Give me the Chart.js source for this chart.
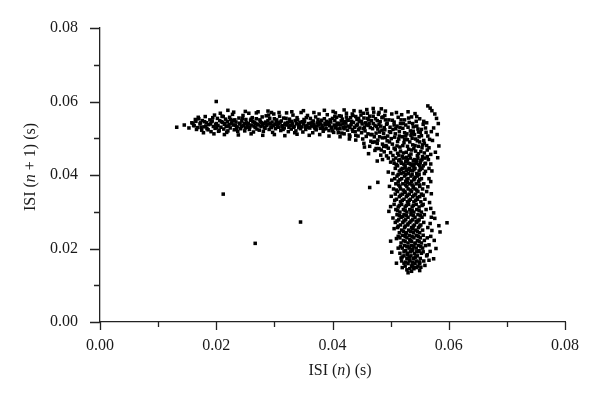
<!DOCTYPE html>
<html>
<head>
<meta charset="utf-8">
<script src="https://cdn.jsdelivr.net/npm/chart.js@4"></script>
<style>
  html, body { margin: 0; padding: 0; background: #fff; }
  #wrap { width: 600px; height: 403px; }
</style>
</head>
<body>
<div id="wrap"><canvas id="isiChart" width="600" height="403"></canvas></div>
<script>
// values, in milliseconds: [ISI(n), ISI(n+1)]
const horizontalBand = [
  [13.2,53.0],[14.5,53.6],[15.3,52.8],[15.8,54.2],[16.1,53.5],[16.4,55.1],[16.6,52.4],
  [16.2,53.4],[16.5,54.6],[16.8,52.9],[17.0,55.3],[17.2,53.9],[17.5,52.2],[17.6,54.8],[17.9,53.1],
  [18.1,55.9],[18.3,54.2],[18.4,52.6],[18.7,53.7],[18.9,55.0],[19.1,51.8],[19.2,54.5],[19.5,53.2],
  [19.7,56.3],[19.8,52.7],[20.0,54.0],[20.2,55.4],[20.3,53.5],[20.5,52.1],[20.6,54.8],[20.8,53.0],
  [21.0,56.0],[21.1,54.3],[21.3,52.5],[21.4,53.8],[21.6,55.2],[21.8,51.6],[21.9,54.6],[22.1,53.3],
  [22.3,55.7],[22.4,52.8],[22.6,54.1],[22.8,56.5],[22.9,53.6],[23.1,52.3],[23.2,55.0],[23.4,54.4],
  [23.6,53.1],[23.7,51.9],[23.9,55.5],[24.1,53.9],[24.2,52.6],[24.4,54.7],[24.6,56.2],[24.7,53.4],
  [24.9,52.0],[25.1,55.1],[25.2,54.2],[25.4,53.0],[25.6,56.8],[25.7,52.4],[25.9,54.9],[26.1,53.6],
  [26.2,55.6],[26.4,51.7],[26.6,54.3],[26.7,52.9],[26.9,55.3],[27.1,53.8],[27.2,57.2],[27.4,52.2],
  [27.6,54.6],[27.7,53.2],[27.9,55.8],[28.1,51.9],[28.2,54.0],[28.4,52.7],[28.6,56.1],[28.7,53.5],
  [28.9,54.8],[29.1,52.4],[29.2,55.4],[29.4,53.1],[29.6,54.4],[29.7,51.6],[29.9,56.6],[30.1,53.8],
  [30.2,52.6],[30.4,55.0],[30.6,54.2],[30.7,53.0],[30.9,56.0],[31.1,52.1],[31.2,54.7],[31.4,53.4],
  [31.6,55.5],[31.7,52.8],[31.9,54.1],[32.1,56.9],[32.2,53.6],[32.4,51.8],[32.6,55.2],[32.7,54.5],
  [32.9,52.5],[33.1,53.9],[33.2,56.3],[33.4,53.2],[33.6,54.8],[33.7,52.0],[33.9,55.6],[34.1,53.7],
  [34.2,52.9],[34.4,54.3],[34.6,57.0],[34.7,53.1],[34.9,51.7],[35.1,55.1],[35.2,54.6],[35.4,52.4],
  [35.6,53.5],[35.7,56.2],[35.9,54.0],[36.1,52.8],[36.2,55.4],[36.4,53.3],[36.6,51.5],[36.7,54.7],
  [36.9,53.0],[37.1,55.8],[37.2,52.3],[37.4,54.2],[37.6,53.6],[37.7,56.6],[37.9,52.7],[38.1,54.9],
  [38.2,53.4],[38.4,51.9],[38.6,55.3],[38.7,54.1],[38.9,52.6],[39.1,56.4],[39.2,53.8],[39.4,52.1],
  [39.6,55.0],[39.7,54.4],[39.9,53.0],[40.1,57.3],[40.2,51.6],[40.4,54.8],[40.6,53.3],[40.7,55.7],
  [40.9,52.5],[41.1,54.0],[41.2,56.1],[41.4,53.6],[41.6,51.4],[41.7,55.2],[41.9,52.9],[42.1,54.5],
  [42.2,53.1],[42.4,56.8],[42.6,52.2],[42.7,54.9],[42.9,50.9],[43.1,55.6],[43.2,53.7],[43.4,52.4],
  [43.6,54.3],[43.7,57.5],[43.9,51.8],[44.1,53.4],[44.2,55.1],[44.4,50.6],[44.6,54.6],[44.7,52.8],
  [44.9,56.3],[45.1,53.9],[45.2,49.8],[45.4,55.5],[45.6,52.0],[45.7,54.2],[45.9,57.8],[46.1,51.2],
  [46.2,53.5],[46.4,56.0],[46.6,49.2],[46.7,54.8],[46.9,52.6],[47.1,57.1],[47.2,50.4],[47.4,55.3],
  [47.6,53.2],[47.7,48.6],[47.9,56.5],[48.1,51.7],[48.2,54.5],[48.4,58.0],[48.6,50.1],[48.7,55.8],
  [48.9,52.9],[49.1,57.4],[49.2,48.0],[49.4,54.1],
  [16.0,54.1],[16.9,55.7],[17.4,53.0],[18.0,54.5],[18.6,52.3],[19.0,53.9],[19.4,55.6],[19.9,53.7],
  [20.4,51.9],[20.9,54.5],[21.2,55.9],[21.7,53.2],[22.0,52.0],[22.5,55.1],[23.0,54.8],[23.5,52.7],
  [24.0,54.1],[24.5,55.4],[25.0,52.8],[25.5,54.0],[26.0,55.2],[26.5,53.3],[27.0,52.5],[27.5,55.0],
  [28.0,53.6],[28.5,54.4],[29.0,56.3],[29.5,52.9],[30.0,55.3],[30.5,53.4],[31.0,54.4],[31.5,52.4],
  [32.0,55.4],[32.5,53.0],[33.0,54.6],[33.5,51.5],[34.0,55.0],[34.5,52.6],[35.0,53.9],[35.5,55.6],
  [36.0,52.9],[36.5,54.4],[37.0,52.6],[37.5,55.1],[38.0,53.9],[38.5,52.4],[39.0,54.6],[39.5,53.4],
  [40.0,55.4],[40.5,52.8],[41.0,53.7],[41.5,54.7],[42.0,52.6],[42.5,55.0],[43.0,53.0],[43.5,51.9],
  [44.0,55.9],[44.5,52.3],[45.0,54.5],[45.5,53.0],[46.0,55.4],[46.5,52.9],[47.0,54.0],[47.5,51.4],
  [48.0,53.8],[48.5,55.6],[49.0,52.3],[49.5,50.6],
  [17.3,54.2],[18.2,53.3],[19.3,54.7],[20.1,52.9],[21.5,54.0],[22.2,53.7],[22.7,54.4],[23.3,53.5],
  [24.3,53.2],[24.8,54.0],[25.3,53.5],[25.8,53.1],[26.3,54.6],[26.8,54.0],[27.3,53.6],[27.8,54.2],
  [28.3,53.0],[28.8,53.9],[29.3,54.0],[29.8,53.4],[30.3,54.5],[30.8,53.9],[31.3,53.1],[31.8,53.8],
  [32.3,54.3],[32.8,53.5],[33.3,53.0],[33.8,54.0],[34.3,53.5],[34.8,54.5],[35.3,53.2],[35.8,53.0],
  [36.3,54.1],[36.8,53.8],[37.3,53.3],[37.8,54.4],[38.3,53.0],[38.8,53.6],[39.3,54.3],[39.8,52.8],
  [40.3,53.6],[40.8,54.1],[41.3,52.6],[41.8,53.9],[42.3,54.1],[42.8,53.3],[43.3,54.6],[43.8,53.0],
  [44.3,53.8],[44.8,54.6],[45.3,52.6],[45.8,53.6],[46.3,54.0],[46.8,51.0],[47.3,53.5],[47.8,52.5],
  [48.3,53.3],[48.8,51.3],[49.3,53.8],
  [17.8,51.5],[19.6,51.2],[20.7,56.8],[21.4,51.0],[23.0,57.1],[23.8,50.9],[25.0,57.3],[26.0,51.2],
  [26.9,56.9],[28.0,50.8],[28.9,57.4],[30.0,51.0],[30.8,57.0],[31.8,50.7],[33.0,57.2],[33.9,51.1],
  [35.0,57.5],[36.0,50.8],[36.8,57.0],[37.8,51.0],[38.6,57.6],[39.4,50.6],[40.5,56.9],[41.3,50.4],
  [42.0,57.7],[42.9,49.8],[43.4,56.6],[44.0,49.5],[44.8,57.3],[45.4,48.6],[46.0,56.8],[46.4,47.8],
  [47.0,58.1],[47.5,47.2],[48.0,57.0],[48.4,46.8],[49.0,56.2],[49.6,47.3]
];

const cornerPoints = [
  [45.5,47.6],[46.2,45.8],[46.9,48.9],[47.3,46.7],[47.8,49.5],[48.0,47.2],[48.3,45.4],[48.6,48.4],
  [48.9,46.3],[49.1,50.2],[49.3,47.7],[49.6,44.6],[49.8,49.0],[50.0,51.6],[50.0,46.1],[49.7,55.0],
  [49.9,53.0],[50.2,56.6],[50.3,48.4],[50.4,52.4],[50.5,44.1],[50.6,54.4],[50.7,50.3],[50.8,46.9],
  [51.0,57.0],[51.0,42.7],[51.1,53.3],[51.2,49.1],[51.3,55.7],[51.4,45.4],[51.5,51.8],[51.6,47.6],
  [51.7,54.0],[51.8,43.5],[51.9,56.4],[52.0,50.4],[52.1,52.7],[52.2,46.0],[52.3,48.8],[52.4,55.0],
  [52.5,41.9],[52.6,53.6],[52.7,44.8],[52.8,51.2],[52.9,49.6],[53.0,57.2],[53.1,47.0],[53.2,54.3],
  [53.3,43.1],[53.4,52.0],[53.5,45.7],[53.6,55.8],[53.7,50.0],[53.8,48.2],[53.9,53.1],[54.0,42.4],
  [54.1,51.0],[54.2,56.7],[54.3,46.5],[54.4,54.6],[54.5,44.0],[54.6,49.3],[54.7,52.5],[54.8,47.8],
  [55.0,55.3],[55.1,43.4],[55.3,50.7],[55.5,45.0],[55.6,53.8],[55.8,48.6],[56.0,41.0],[56.1,51.6],
  [56.3,46.8],[56.5,44.2],[56.7,49.7],
  [40.0,52.0],[40.4,55.9],[41.0,51.5],[41.5,56.0],[42.0,51.2],[42.4,55.8],[43.0,50.5],[43.5,56.2],
  [44.0,50.8],[44.5,55.4],[45.0,51.5],[45.3,56.8],[45.8,50.5],[46.2,55.0],[46.6,51.0],[47.0,56.0],
  [47.3,49.0],[47.7,54.8],[48.1,50.4],[48.5,52.2],[48.8,47.8],[49.1,55.0],[49.4,49.3],[49.8,51.8],
  [50.1,49.9],[50.3,54.9],[50.6,47.3],[50.9,52.6],[51.2,45.9],[51.5,50.6],[51.8,55.0],[52.1,48.0],
  [52.4,51.5],[52.7,46.2],[53.0,53.0],[53.3,49.0],[53.6,46.8],[53.9,51.9],[54.2,48.0],[54.5,53.3],
  [54.8,45.8],[55.1,51.6],[55.4,47.4],[55.7,49.4],[56.0,52.8],[56.3,45.0],[55.9,43.0],[55.2,41.8],
  [49.3,45.2],[50.0,43.5],[48.6,44.2],[47.7,43.8],
  [50.4,45.3],[51.1,47.9],[51.7,46.5],[52.4,49.7],[52.0,45.1],[52.9,47.8],[53.2,45.3],[53.5,50.8],
  [54.0,47.2],[54.3,49.8],[54.6,45.3],[54.9,50.4],[55.2,46.4],[55.5,48.2],[55.8,46.0],[56.2,48.0],
  [50.8,51.2],[51.4,49.8],[52.2,54.0],[53.1,55.5],[53.8,54.0],[54.5,55.9],[55.3,52.4],[55.7,54.6],
  [50.6,53.6],[51.6,52.9],[52.6,50.6],[53.6,51.2],[54.8,51.7],[55.0,49.0],[56.4,50.6],[56.6,47.4],
  [56.9,45.6],[57.0,51.8],[56.2,54.2]
];

const rightColumn = [
  [56.4,58.8],[56.8,58.2],[57.1,57.5],[57.6,56.6],[57.9,55.4],[58.2,54.0],[57.4,52.8],[58.0,51.0],
  [57.2,49.4],[58.3,47.9],[57.7,46.2],[58.1,44.7],[56.9,43.0]
];

// vertical band, one row per ISI(n+1) value: [ISI(n+1), [ISI(n) ...]]
const verticalRows = [
  [44.6,[50.9,52.2,53.4,54.7,55.9]], [44.2,[51.6,52.9,54.1,55.4]],
  [43.9,[51.4,52.8,53.9,55.2]], [43.2,[50.6,51.9,53.0,54.4,56.0]],
  [42.9,[51.0,52.3,53.5,54.8]], [42.5,[51.2,52.5,53.7,55.0,55.6]],
  [41.8,[50.8,52.0,53.2,54.2,55.4]], [41.5,[51.8,53.0,54.0,55.1]],
  [41.1,[51.5,52.7,53.8,54.9,57.1]], [40.4,[50.4,51.8,53.1,54.5,55.8]],
  [40.1,[51.3,52.6,53.7,54.9]], [39.7,[51.1,52.4,53.5,54.6]],
  [39.0,[50.7,51.9,53.0,54.1,55.3,56.6]], [38.7,[51.6,52.8,54.0,55.0]],
  [38.3,[51.3,52.6,53.6,54.8]], [37.6,[50.9,52.1,53.3,54.4,55.7]],
  [37.3,[51.4,52.6,53.7,55.0]], [36.9,[51.6,52.8,53.9,55.0]],
  [36.2,[50.5,51.7,53.0,54.2,55.5]], [35.9,[51.0,52.2,53.4,54.5]],
  [35.5,[51.2,52.4,53.6,54.7,56.2]], [34.8,[50.8,52.0,53.2,54.3,55.3]],
  [34.5,[51.7,52.9,54.0,55.6]], [34.1,[51.5,52.7,53.8,55.0]],
  [33.4,[51.0,52.3,53.4,54.6,55.9]], [33.1,[50.7,52.0,53.2,54.3]],
  [32.7,[51.7,52.9,54.0,55.2]], [32.0,[50.6,51.9,53.1,54.4,55.6]],
  [31.7,[51.5,52.7,53.9,55.4]], [31.3,[51.3,52.5,53.7,54.9]],
  [30.6,[50.9,52.2,53.3,54.5,56.1]], [30.3,[51.2,52.5,53.7,54.9]],
  [29.9,[51.6,52.8,54.0,55.3]], [29.2,[51.1,52.3,53.5,54.7,55.8]],
  [28.9,[51.5,52.7,53.9,55.1]], [28.5,[51.8,53.0,54.2,55.4,57.0]],
  [27.8,[51.4,52.6,53.8,54.9]], [27.5,[51.1,52.3,53.5,54.7]],
  [27.1,[50.8,52.1,53.3,54.5,55.7]], [26.4,[51.7,52.9,54.1,55.2]],
  [26.1,[51.3,52.5,53.9,55.0]], [25.7,[51.2,52.4,53.6,54.8,56.4]],
  [25.0,[51.9,53.1,54.3,55.5]], [24.7,[52.2,53.4,54.6]],
  [24.3,[51.5,52.7,53.9,55.0]], [23.6,[52.0,53.2,54.4,55.6]],
  [23.3,[51.3,52.5,53.7,54.8]], [22.9,[51.6,52.8,54.0,55.1,56.3]],
  [22.2,[52.2,53.4,54.6,55.8]], [21.9,[52.5,53.6,54.9]],
  [21.5,[51.8,53.0,54.2,55.3]], [20.8,[52.4,53.6,54.8,56.0]],
  [20.5,[51.7,52.8,54.0,55.2]], [20.1,[52.0,53.2,54.4,55.5]],
  [19.4,[52.6,53.7,54.9]], [19.1,[52.3,53.4,54.5,55.6]],
  [18.7,[51.6,52.9,54.1,55.3]], [18.0,[52.3,53.5,54.6,56.2]],
  [17.7,[52.0,53.2,54.3]], [17.3,[52.8,53.9,55.1]],
  [16.6,[51.9,53.2,54.4,55.7]], [16.3,[52.6,53.8,54.9]],
  [15.9,[53.0,54.2,55.0]], [15.2,[52.5,53.6,54.7]],
  [14.9,[53.9,55.2]], [14.5,[53.3,54.0]], [13.8,[53.6]]
];

// looser points around the vertical band and the far outliers
const strayPoints = [
  [59.7,27.0],[58.5,24.5],[57.8,20.0],[57.4,17.2],[56.6,16.8],[49.7,30.1],[50.0,22.0],
  [50.2,19.0],[51.0,16.0],[52.0,14.8],[47.8,38.0],[46.4,36.6],[20.0,60.0],[22.0,57.6],
  [29.5,57.0],[21.2,34.8],[34.5,27.2],[26.7,21.4],
  [49.6,40.8],[50.2,38.6],[49.8,36.9],[50.1,34.2],[50.0,31.4],[50.4,28.3],[50.6,25.4],[51.0,22.7],
  [51.3,20.1],[51.8,17.4],[56.6,41.8],[56.9,38.2],[56.4,36.8],[57.0,34.9],[56.7,32.5],[56.9,30.9],
  [57.4,29.7],[57.6,28.2],[56.8,26.8],[58.3,26.2],[57.1,24.9],[56.9,23.3],[57.5,22.2],[56.6,21.0],
  [56.8,19.2],[56.3,18.3],[55.9,15.4],[55.0,14.0],[53.0,13.4],[52.3,16.0],
  [52.6,43.6],[54.0,43.0],[53.4,41.3],[52.2,40.7],[54.2,39.4],[52.9,38.0],[53.9,36.5],[52.5,35.2],
  [54.6,33.8],[53.0,32.4],[53.5,30.0],[52.1,28.7],[54.4,27.4],[53.0,26.7],[53.8,25.3],[52.6,24.0],
  [54.5,23.5],[53.3,22.5],[54.2,21.3],[53.0,20.5],[53.8,19.8],[54.8,19.2],[52.9,18.3],[54.2,17.6],
  [53.3,16.9],[55.0,16.3],[53.7,15.5],[54.5,14.8],[52.8,14.2]
];

const xTicks = [0, 0.02, 0.04, 0.06, 0.08];
const yTicks = [0, 0.02, 0.04, 0.06, 0.08];

let allPairs = horizontalBand.concat(cornerPoints, rightColumn, strayPoints);
verticalRows.forEach(row => {
    row[1].forEach(x => allPairs.push([x, row[0]]));
});
let scatterData = allPairs.map(p => ({ x: p[0] / 1000, y: p[1] / 1000 }));

const textColor = '#1a1a1a';
const serif = '"Liberation Serif", "Times New Roman", serif';

// draws the tick marks (major and minor) and the axis titles with italic n
const axisDecor = {
    id: 'axisDecor',
    afterDraw(chart) {
        const ctx = chart.ctx;
        const xs = chart.scales.x;
        const ys = chart.scales.y;
        const area = chart.chartArea;
        ctx.save();
        ctx.strokeStyle = '#222';
        ctx.lineWidth = 1.3;
        ctx.beginPath();
        for (let i = 0; i <= 8; i++) {
            let v = i / 100;
            let len = i % 2 === 0 ? 8 : 5;
            let px = Math.round(xs.getPixelForValue(v)) + 0.5;
            ctx.moveTo(px, area.bottom);
            ctx.lineTo(px, area.bottom + len);
            let py = Math.round(ys.getPixelForValue(v)) + 0.5;
            ctx.moveTo(area.left, py);
            ctx.lineTo(area.left - (i % 2 === 0 ? 10 : 6), py);
        }
        ctx.stroke();

        ctx.fillStyle = textColor;
        ctx.textBaseline = 'middle';
        function drawParts(parts, cx, cy) {
            let widths = parts.map(p => {
                ctx.font = (p[1] ? 'italic ' : '') + '16px ' + serif;
                return ctx.measureText(p[0]).width;
            });
            let total = widths.reduce((a, b) => a + b, 0);
            let x = cx - total / 2;
            parts.forEach((p, i) => {
                ctx.font = (p[1] ? 'italic ' : '') + '16px ' + serif;
                ctx.textAlign = 'left';
                ctx.fillText(p[0], x, cy);
                x += widths[i];
            });
        }
        drawParts([['ISI (', false], ['n', true], [') (s)', false]], 340, 371);
        ctx.translate(31, 167);
        ctx.rotate(-Math.PI / 2);
        drawParts([['ISI (', false], ['n', true], [' + 1) (s)', false]], 0, 0);
        ctx.restore();
    }
};

const ctx = document.getElementById('isiChart').getContext('2d');
const isiChart = new Chart(ctx, {
    type: 'scatter',
    data: {
        datasets: [{
            data: scatterData,
            pointStyle: 'rect',
            pointRadius: 2.5,
            borderWidth: 0,
            backgroundColor: '#000',
            pointHoverRadius: 2.5
        }]
    },
    options: {
        responsive: false,
        animation: false,
        layout: { padding: { left: 0, right: 35, top: 28, bottom: 0 } },
        plugins: { legend: { display: false }, tooltip: { enabled: false } },
        scales: {
            x: {
                type: 'linear',
                min: 0,
                max: 0.08,
                afterBuildTicks: scale => { scale.ticks = xTicks.map(v => ({ value: v })); },
                afterFit: scale => { scale.height = 81; },
                grid: { display: false },
                border: { display: true, color: '#222', width: 1.3 },
                ticks: {
                    padding: 6,
                    color: textColor,
                    font: { family: serif, size: 16 },
                    maxRotation: 0,
                    callback: v => v.toFixed(2)
                }
            },
            y: {
                type: 'linear',
                min: 0,
                max: 0.08,
                afterBuildTicks: scale => { scale.ticks = yTicks.map(v => ({ value: v })); },
                afterFit: scale => { scale.width = 100; },
                grid: { display: false },
                border: { display: true, color: '#222', width: 1.3 },
                ticks: {
                    padding: 14,
                    color: textColor,
                    font: { family: serif, size: 16 },
                    callback: v => v.toFixed(2)
                }
            }
        }
    },
    plugins: [axisDecor]
});
</script>
</body>
</html>
